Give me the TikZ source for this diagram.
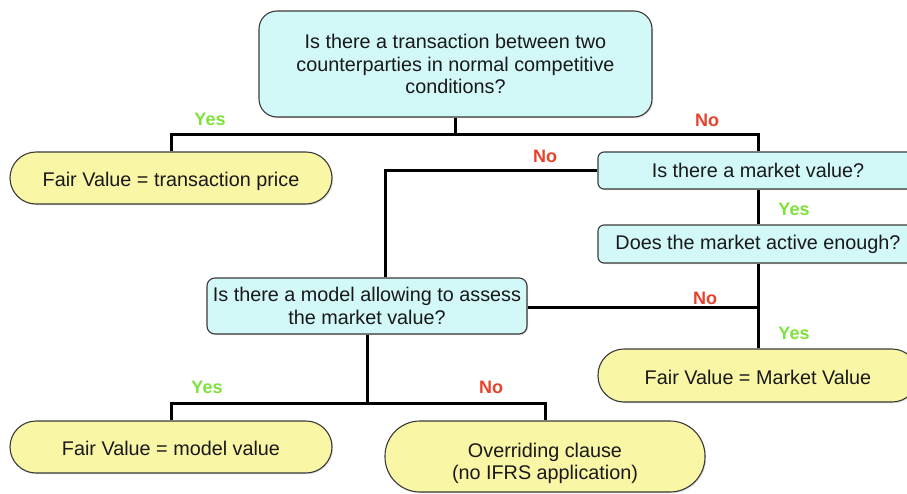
\documentclass[tikz,border=0pt]{standalone}
\usepackage{fontspec}
\setmainfont{Liberation Sans}
\usetikzlibrary{shadows}
\definecolor{qfill}{HTML}{D2F8F8}
\definecolor{afill}{HTML}{F9F6A6}
\definecolor{bord}{HTML}{3A3A3A}
\definecolor{yescol}{HTML}{7EE23A}
\definecolor{nocol}{HTML}{E8412C}
\tikzset{
  box/.style={draw=bord, line width=1.1pt, inner sep=0pt, align=center,
    font=\fontsize{19.8}{22.5}\selectfont, text=black!90,
    drop shadow={shadow xshift=1.2pt, shadow yshift=-1.2pt, opacity=0.25}},
  qbox/.style={box, fill=qfill},
  abox/.style={box, fill=afill, text depth=0pt},
  conn/.style={line width=3pt, black},
  yeslab/.style={font=\bfseries\fontsize{18}{18}\selectfont, text=yescol},
  nolab/.style={font=\bfseries\fontsize{18}{18}\selectfont, text=nocol}
}
\begin{document}
\begin{tikzpicture}[x=1pt,y=-1pt]
\useasboundingbox (0,0) rectangle (907,493);
% nodes
\node[qbox, rounded corners=18pt, minimum width=393pt, minimum height=106pt] (top) at (455.5,64)
  {Is there a transaction between two\\counterparties in normal competitive\\conditions?};
\node[abox, rounded corners=26pt, minimum width=322pt, minimum height=52pt] (fv1) at (171,178)
  {\raisebox{-3pt}{Fair Value = transaction price}};
\node[qbox, rounded corners=6pt, minimum width=320pt, minimum height=37pt] (mkt) at (758,170.5)
  {Is there a market value?};
\node[qbox, rounded corners=6pt, minimum width=320pt, minimum height=38pt] (act) at (758,244)
  {Does the market active enough?};
\node[qbox, rounded corners=8pt, minimum width=320pt, minimum height=56pt] (mod) at (367,306)
  {Is there a model allowing to assess\\the market value?};
\node[abox, rounded corners=26pt, minimum width=320pt, minimum height=53pt] (fvm) at (758,375.5)
  {\raisebox{-3pt}{Fair Value = Market Value}};
\node[abox, rounded corners=26pt, minimum width=322pt, minimum height=52pt] (fvmod) at (171,447)
  {\raisebox{-3pt}{Fair Value = model value}};
\node[abox, rounded corners=35pt, minimum width=320pt, minimum height=71pt] (ovr) at (545,456.5)
  {\raisebox{2pt}{\begin{tabular}{@{}c@{}}Overriding clause\\[0pt](no IFRS application)\end{tabular}}};
% junction coordinates
\coordinate (j1) at (455.5,134);
\coordinate (cx) at (385,0);
\coordinate (j2) at (758,307);
\coordinate (j3) at (367,403);
% connectors
\draw[conn] (top.south) -- (j1);
\draw[conn] (fv1.north) |- (j1) -| (mkt.north);
\draw[conn] (mkt.west) -| (mod.north -| cx);
\draw[conn] (mkt.south) -- (act.north);
\draw[conn] (act.south) -- (fvm.north);
\draw[conn] (mod.east |- j2) -- (j2);
\draw[conn] (mod.south) -- (j3);
\draw[conn] (fvmod.north) |- (j3) -| (ovr.north);
% labels
\node[yeslab] (y1) at (210,119) {Yes};
\node[nolab] (n1) at (707,120) {No};
\node[nolab] (n2) at (545,156) {No};
\node[yeslab] (y2) at (794,209) {Yes};
\node[nolab] (n3) at (705,298) {No};
\node[yeslab] (y3) at (794,333) {Yes};
\node[yeslab] (y4) at (207,387) {Yes};
\node[nolab] (n4) at (491,387) {No};
\end{tikzpicture}
\end{document}
